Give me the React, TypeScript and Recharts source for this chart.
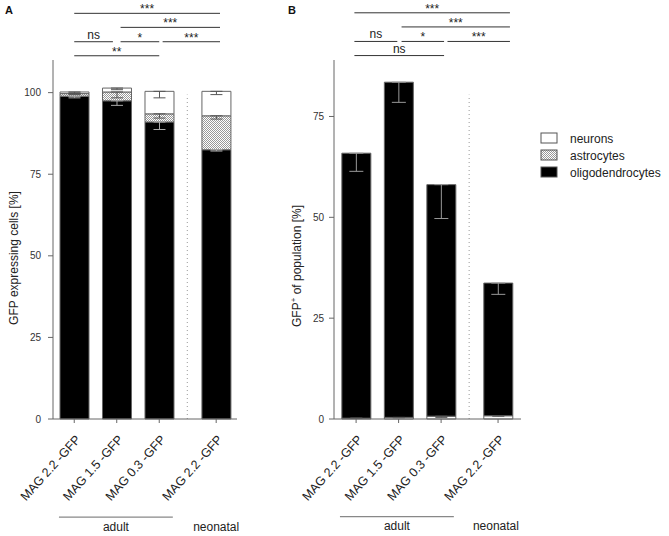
import React from 'react';
import { BarChart, Bar, XAxis, YAxis, ErrorBar, ReferenceLine } from 'recharts';

// categories and bar positions (4th bar sits after a gap)
const categories = ['MAG 2.2 -GFP', 'MAG 1.5 -GFP', 'MAG 0.3 -GFP', 'MAG 2.2 -GFP'];
const xPos = [1, 2, 3, 4.34];

// panel A: GFP expressing cells [%]
const aOligo = [98.9, 97.5, 91.0, 82.5];
const aAstro = [0.8, 2.7, 2.5, 10.4];
const aNeuron = [0.5, 1.2, 6.9, 7.5];
const aOligoErr = [0.5, 1.4, 2.3, 0.4];
const aAstroErr = [0.3, 1.8, 1.3, 1.0];
const aNeuronErr = [0.3, 0.5, 2.0, 1.0];
const aTicks = [0, 25, 50, 75, 100];

// panel B: GFP+ of population [%]
const bNeuron = [0.2, 0.4, 0.7, 0.8];
const bOligo = [65.7, 83.1, 57.4, 32.9];
const bOligoErr = [4.5, 5.0, 8.4, 2.8];
const bNeuronErr = [0, 0.1, 0.3, 0.1];
const bTicks = [0, 25, 50, 75];

// significance brackets [x1, x2, y, label]
const sigA: [number, number, number, string][] = [
  [1.0, 4.43, 124.3, '***'],
  [2.09, 4.43, 120.0, '***'],
  [1.0, 1.91, 115.6, 'ns'],
  [2.09, 3.0, 115.6, '*'],
  [3.08, 4.43, 115.6, '***'],
  [1.0, 3.0, 111.3, '**'],
];
const sigB: [number, number, number, string][] = [
  [0.96, 4.62, 100.7, '***'],
  [2.07, 4.62, 97.2, '***'],
  [0.96, 1.97, 93.6, 'ns'],
  [2.07, 3.07, 93.6, '*'],
  [3.15, 4.62, 93.6, '***'],
  [0.96, 3.07, 90.1, 'ns'],
];

const legendItems = [
  { name: 'neurons', fill: '#fff' },
  { name: 'astrocytes', fill: 'url(#stipple)' },
  { name: 'oligodendrocytes', fill: '#000' },
];

const dataA = xPos.map((x, i) => ({
  x,
  oligo: aOligo[i],
  astro: aAstro[i],
  neuron: aNeuron[i],
  oligoErr: [aOligoErr[i], 0],
  astroErr: [aAstroErr[i], 0],
  neuronErr: [aNeuronErr[i], 0],
}));

const dataB = xPos.map((x, i) => ({
  x,
  neuron: bNeuron[i],
  oligo: bOligo[i],
  neuronErr: [bNeuronErr[i], 0],
  oligoErr: [bOligoErr[i], 0],
}));

const FONT = '"Liberation Sans", Arial, Helvetica, sans-serif';

const RotTick = (props: any) => {
  const { x, y, payload } = props;
  const idx = xPos.indexOf(payload.value);
  return (
    <text
      transform={`translate(${x + 7},${y + 15}) rotate(-48)`}
      textAnchor="end"
      fontSize={12.5}
      fill="#222"
    >
      {categories[idx] ?? ''}
    </text>
  );
};

const sigLines = (rows: [number, number, number, string][]) =>
  rows.map(([x1, x2, y, label], i) => (
    <ReferenceLine
      key={`sig-${i}`}
      segment={[{ x: x1, y }, { x: x2, y }]}
      stroke="#333"
      strokeWidth={1}
      ifOverflow="visible"
      label={{
        value: label,
        position: 'top',
        offset: label === 'ns' ? 3 : 0,
        fontSize: 12,
        fill: '#222',
      }}
    />
  ));

const groupLabels = (yLine: number, x1: number, x2: number, xNeo: number) => [
  <ReferenceLine
    key="adult"
    segment={[{ x: x1, y: yLine }, { x: x2, y: yLine }]}
    stroke="#888"
    strokeWidth={1.3}
    ifOverflow="visible"
    label={{ value: 'adult', position: 'bottom', offset: 5, fontSize: 12, fill: '#222' }}
  />,
  <ReferenceLine
    key="neo"
    segment={[{ x: xNeo - 0.1, y: yLine }, { x: xNeo + 0.1, y: yLine }]}
    stroke="none"
    ifOverflow="visible"
    label={{ value: 'neonatal', position: 'bottom', offset: 5, fontSize: 12, fill: '#222' }}
  />,
];

export default function App() {
  return (
    <div
      style={{
        position: 'absolute',
        left: 0,
        top: 0,
        width: 669,
        height: 536,
        background: '#fff',
        fontFamily: FONT,
      }}
    >
      <svg width={0} height={0} style={{ position: 'absolute' }}>
        <defs>
          <pattern id="stipple" width="2" height="2" patternUnits="userSpaceOnUse">
            <rect width="2" height="2" fill="#fff" />
            <rect width="1" height="1" fill="#999" />
            <rect x="1" y="1" width="1" height="1" fill="#999" />
          </pattern>
        </defs>
      </svg>

      {/* Panel A */}
      <div style={{ position: 'absolute', left: 0, top: 0 }}>
        <BarChart
          width={242}
          height={536}
          data={dataA}
          margin={{ top: 60, right: 5, bottom: 87, left: 0 }}
          barSize={29}
        >
          <XAxis
            dataKey="x"
            type="number"
            domain={[0.5, 4.83]}
            ticks={xPos}
            interval={0}
            tick={<RotTick />}
            tickSize={4}
            tickLine={{ stroke: '#666' }}
            axisLine={{ stroke: '#666' }}
            height={30}
          />
          <YAxis
            type="number"
            domain={[0, 110]}
            ticks={aTicks}
            width={53}
            tickSize={5}
            tickMargin={7}
            tick={{ fill: '#333', fontSize: 10 }}
            tickLine={{ stroke: '#666' }}
            axisLine={{ stroke: '#666' }}
          />
          <Bar dataKey="oligo" stackId="a" fill="#000" stroke="#666" isAnimationActive={false}>
            <ErrorBar dataKey="oligoErr" width={6} stroke="#aaa" strokeWidth={1} />
          </Bar>
          <Bar dataKey="astro" stackId="a" fill="url(#stipple)" stroke="#666" isAnimationActive={false}>
            <ErrorBar dataKey="astroErr" width={6} stroke="#555" strokeWidth={1} />
          </Bar>
          <Bar dataKey="neuron" stackId="a" fill="#fff" stroke="#666" isAnimationActive={false}>
            <ErrorBar dataKey="neuronErr" width={6} stroke="#555" strokeWidth={1} />
          </Bar>
          <ReferenceLine
            segment={[{ x: 3.66, y: 0 }, { x: 3.66, y: 99.4 }]}
            stroke="#999"
            strokeDasharray="1 3"
            ifOverflow="visible"
          />
          {sigLines(sigA)}
          {groupLabels(-30.06, 0.64, 3.32, 4.34)}
        </BarChart>
      </div>

      {/* Panel B */}
      <div style={{ position: 'absolute', left: 250, top: 0 }}>
        <BarChart
          width={276}
          height={536}
          data={dataB}
          margin={{ top: 60, right: 5, bottom: 87, left: 0 }}
          barSize={29}
        >
          <XAxis
            dataKey="x"
            type="number"
            domain={[0.48, 4.88]}
            ticks={xPos}
            interval={0}
            tick={<RotTick />}
            tickSize={4}
            tickLine={{ stroke: '#666' }}
            axisLine={{ stroke: '#666' }}
            height={30}
          />
          <YAxis
            type="number"
            domain={[0, 89]}
            ticks={bTicks}
            width={84}
            tickSize={5}
            tickMargin={5}
            tick={{ fill: '#333', fontSize: 10 }}
            tickLine={{ stroke: '#666' }}
            axisLine={{ stroke: '#666' }}
          />
          <Bar dataKey="neuron" stackId="b" fill="#fff" stroke="#666" isAnimationActive={false}>
            <ErrorBar dataKey="neuronErr" width={6} stroke="#555" strokeWidth={1} />
          </Bar>
          <Bar dataKey="oligo" stackId="b" fill="#000" stroke="#666" isAnimationActive={false}>
            <ErrorBar dataKey="oligoErr" width={7} stroke="#999" strokeWidth={1} />
          </Bar>
          <ReferenceLine
            segment={[{ x: 3.66, y: 0 }, { x: 3.66, y: 80.4 }]}
            stroke="#999"
            strokeDasharray="1 3"
            ifOverflow="visible"
          />
          {sigLines(sigB)}
          {groupLabels(-24.2, 0.62, 3.3, 4.29)}
        </BarChart>
      </div>

      {/* titles, axis labels, legend */}
      <svg
        width={669}
        height={536}
        style={{ position: 'absolute', left: 0, top: 0, pointerEvents: 'none' }}
      >
        <text x={5} y={14} fontSize={11} fontWeight="bold" fill="#111">A</text>
        <text x={288} y={14} fontSize={11} fontWeight="bold" fill="#111">B</text>
        <text
          transform="translate(18,258) rotate(-90)"
          textAnchor="middle"
          fontSize={12}
          fill="#222"
        >
          GFP expressing cells [%]
        </text>
        <text
          transform="translate(301,266) rotate(-90)"
          textAnchor="middle"
          fontSize={12}
          fill="#222"
        >
          GFP<tspan fontSize={8} dy={-5}>+</tspan>
          <tspan dy={5}> of population  [%]</tspan>
        </text>
        {legendItems.map((item, i) => (
          <g key={item.name}>
            <rect
              x={541}
              y={133 + i * 17}
              width={16}
              height={10}
              fill={item.fill}
              stroke="#555"
              strokeWidth={1}
            />
            <text x={570} y={142.5 + i * 17} fontSize={12} fill="#222">
              {item.name}
            </text>
          </g>
        ))}
      </svg>
    </div>
  );
}
